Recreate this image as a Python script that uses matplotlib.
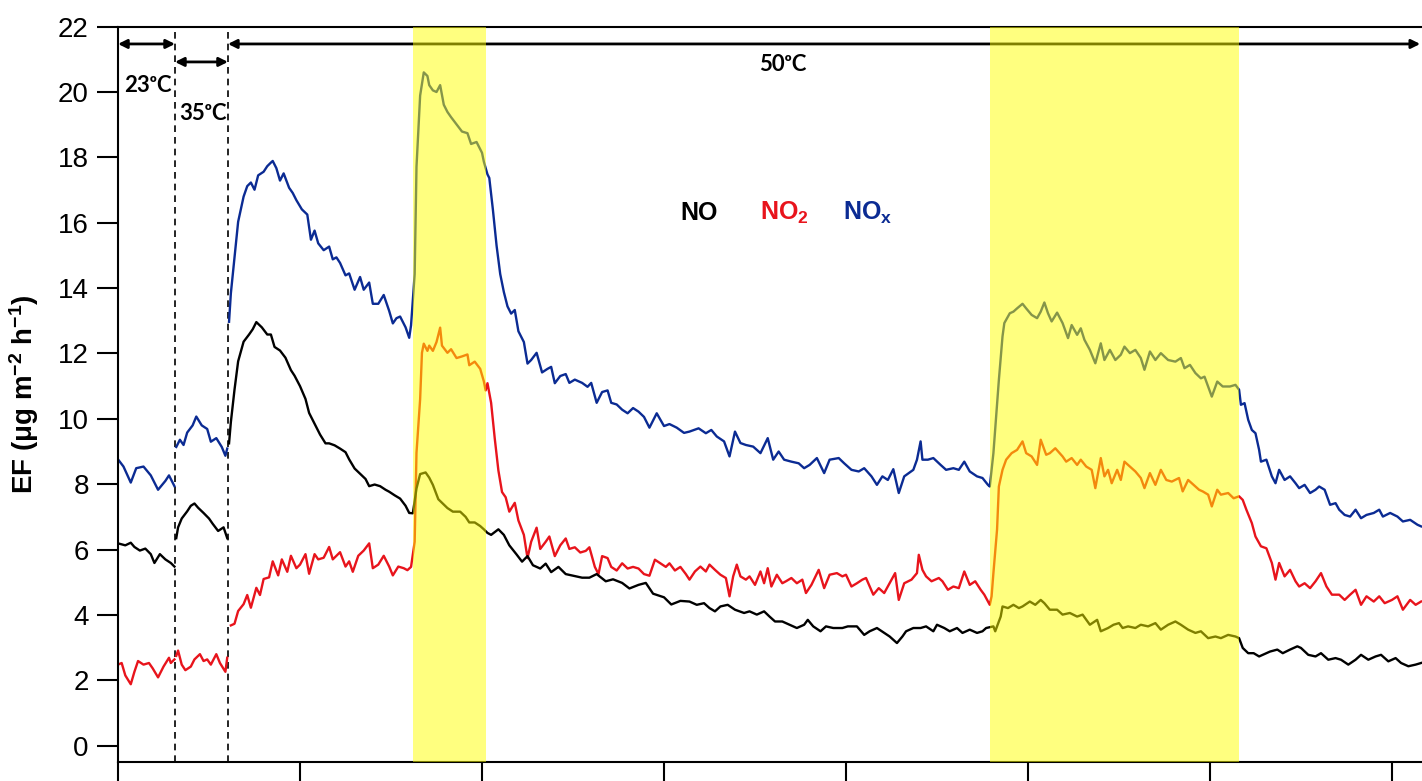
import numpy as np
import matplotlib
matplotlib.use('Agg')
import matplotlib.pyplot as plt

# elapsed time (one major tick = 1 unit) and EF values
t_nox = [0.00, 0.03, 0.07, 0.10, 0.14, 0.18, 0.22, 0.26, 0.28, 0.31, None,
         0.32, 0.34, 0.36, 0.38, 0.41, 0.43, 0.46, 0.49, 0.51, 0.54, 0.57, 0.59, 0.60, None,
         0.61, 0.62, 0.64, 0.66, 0.69, 0.71, 0.73, 0.75, 0.77, 0.80, 0.82, 0.84, 0.85, 0.87,
         0.89, 0.91, 0.94, 0.96, 0.98, 1.01, 1.04, 1.06, 1.08, 1.10, 1.13, 1.16, 1.18, 1.20,
         1.22, 1.25, 1.27, 1.30, 1.33, 1.35, 1.38, 1.40, 1.43, 1.46, 1.49, 1.51, 1.53, 1.55,
         1.58, 1.60, 1.61, 1.63, 1.64, 1.66, 1.68, 1.70, 1.71, 1.73, 1.75, 1.77, 1.79, 1.81,
         1.83, 1.86, 1.89, 1.92, 1.94, 1.97, 2.00, 2.01, 2.03, 2.04, 2.06, 2.08, 2.10, 2.12,
         2.14, 2.16, 2.18, 2.20, 2.23, 2.25, 2.27, 2.30, 2.33, 2.36, 2.38, 2.40, 2.43, 2.46,
         2.48, 2.51, 2.55, 2.58, 2.60, 2.63, 2.66, 2.69, 2.71, 2.74, 2.77, 2.80, 2.83, 2.86,
         2.89, 2.92, 2.96, 3.00, 3.03, 3.07, 3.11, 3.14, 3.19, 3.23, 3.26, 3.29, 3.33, 3.36,
         3.39, 3.42, 3.45, 3.49, 3.53, 3.57, 3.60, 3.63, 3.66, 3.70, 3.74, 3.77, 3.80, 3.84,
         3.88, 3.91, 3.96, 3.99, 4.03, 4.07, 4.10, 4.14, 4.17, 4.20, 4.23, 4.26, 4.29, 4.32,
         4.37, 4.39, 4.41, 4.42, 4.45, 4.48, 4.52, 4.55, 4.59, 4.62, 4.65, 4.68, 4.72, 4.75,
         4.78, 4.79, 4.81, 4.84, 4.86, 4.87, 4.90, 4.92, 4.94, 4.97, 4.99, 5.02, 5.05, 5.07,
         5.09, 5.11, 5.13, 5.16, 5.19, 5.22, 5.24, 5.27, 5.29, 5.31, 5.34, 5.37, 5.40, 5.42,
         5.45, 5.48, 5.51, 5.53, 5.56, 5.59, 5.62, 5.64, 5.67, 5.70, 5.73, 5.77, 5.81, 5.84,
         5.86, 5.89, 5.92, 5.95, 5.97, 6.01, 6.04, 6.07, 6.11, 6.14, 6.16, 6.17, 6.19, 6.21,
         6.23, 6.25, 6.27, 6.28, 6.31, 6.34, 6.36, 6.38, 6.41, 6.44, 6.47, 6.49, 6.52, 6.55,
         6.58, 6.60, 6.63, 6.66, 6.69, 6.71, 6.74, 6.77, 6.80, 6.83, 6.86, 6.90, 6.93, 6.95,
         6.99, 7.03, 7.06, 7.10, 7.14, 7.16]
nox = [8.76, 8.54, 8.05, 8.49, 8.54, 8.27, 7.83, 8.10, 8.27, 7.94, None,
       9.14, 9.36, 9.20, 9.58, 9.80, 10.07, 9.80, 9.69, 9.30, 9.41, 9.14, 8.87, 9.09, None,
       12.97, 13.84, 14.94, 16.03, 16.80, 17.12, 17.23, 17.01, 17.45, 17.56, 17.73, 17.84, 17.89, 17.67,
       17.29, 17.51, 17.07, 16.91, 16.69, 16.41, 16.25, 15.48, 15.76, 15.37, 15.16, 15.27, 14.88, 14.94,
       14.77, 14.39, 14.45, 13.95, 14.34, 13.95, 14.17, 13.52, 13.52, 13.79, 13.30, 12.92, 13.08, 13.13,
       12.80, 12.48, 12.86, 14.43, 17.71, 19.89, 20.60, 20.49, 20.21, 20.05, 20.00, 20.21, 19.61, 19.39,
       19.23, 19.01, 18.79, 18.74, 18.41, 18.47, 18.14, 17.87, 17.48, 17.37, 16.39, 15.30, 14.43, 13.88,
       13.44, 13.22, 13.33, 12.68, 12.35, 11.69, 11.80, 12.02, 11.42, 11.53, 11.59, 11.09, 11.31, 11.37,
       11.10, 11.20, 11.10, 10.98, 11.10, 10.49, 10.82, 10.87, 10.49, 10.44, 10.28, 10.17, 10.33, 10.22,
       10.06, 9.73, 10.17, 9.78, 9.84, 9.73, 9.57, 9.61, 9.71, 9.56, 9.66, 9.46, 9.31, 8.85,
       9.61, 9.26, 9.20, 9.15, 8.95, 9.41, 8.75, 9.00, 8.75, 8.69, 8.64, 8.49, 8.59, 8.80,
       8.34, 8.75, 8.80, 8.64, 8.44, 8.39, 8.49, 8.24, 7.98, 8.24, 8.13, 8.46, 7.73, 8.24,
       8.44, 8.75, 9.31, 8.75, 8.75, 8.80, 8.59, 8.44, 8.49, 8.44, 8.69, 8.39, 8.24, 8.19,
       7.98, 7.93, 8.95, 11.19, 12.52, 12.93, 13.23, 13.28, 13.38, 13.52, 13.38, 13.18, 13.08, 13.28,
       13.56, 13.23, 12.98, 13.25, 12.93, 12.47, 12.87, 12.57, 12.77, 12.42, 12.11, 11.70, 12.31, 11.80,
       12.11, 11.80, 11.96, 12.21, 12.01, 12.11, 11.86, 11.50, 12.06, 11.80, 12.01, 11.80, 11.75, 11.86,
       11.55, 11.65, 11.40, 11.24, 11.29, 10.68, 11.14, 10.99, 10.99, 11.04, 10.89, 10.43, 10.48, 9.97,
       9.66, 9.56, 9.05, 8.69, 8.75, 8.24, 8.03, 8.44, 8.13, 8.24, 8.03, 7.88, 7.98, 7.73,
       7.83, 7.93, 7.83, 7.37, 7.42, 7.22, 7.06, 7.01, 7.22, 6.96, 7.06, 7.12, 7.22, 7.01,
       7.12, 7.01, 6.86, 6.91, 6.76, 6.71]

t_no = [0.00, 0.04, 0.07, 0.09, 0.12, 0.15, 0.18, 0.20, 0.23, 0.26, 0.29, 0.31, None,
        0.32, 0.33, 0.35, 0.38, 0.40, 0.42, 0.44, 0.47, 0.50, 0.52, 0.55, 0.58, 0.60, None,
        0.61, 0.62, 0.64, 0.66, 0.69, 0.72, 0.74, 0.76, 0.79, 0.82, 0.84, 0.86, 0.89, 0.92,
        0.95, 0.97, 1.00, 1.03, 1.05, 1.08, 1.11, 1.14, 1.16, 1.19, 1.22, 1.25, 1.27, 1.30,
        1.33, 1.36, 1.38, 1.41, 1.44, 1.47, 1.49, 1.52, 1.55, 1.58, 1.60, 1.62, 1.64, 1.66,
        1.69, 1.71, 1.73, 1.76, 1.79, 1.81, 1.84, 1.88, 1.91, 1.93, 1.96, 1.99, 2.01, 2.03,
        2.05, 2.09, 2.12, 2.15, 2.19, 2.22, 2.25, 2.28, 2.32, 2.35, 2.38, 2.42, 2.46, 2.50,
        2.55, 2.59, 2.63, 2.68, 2.72, 2.77, 2.81, 2.86, 2.90, 2.94, 3.00, 3.04, 3.09, 3.14,
        3.18, 3.22, 3.25, 3.28, 3.31, 3.35, 3.39, 3.44, 3.47, 3.51, 3.55, 3.58, 3.61, 3.65,
        3.69, 3.73, 3.77, 3.79, 3.82, 3.86, 3.89, 3.93, 3.98, 4.01, 4.06, 4.10, 4.13, 4.17,
        4.21, 4.24, 4.28, 4.31, 4.33, 4.37, 4.41, 4.44, 4.48, 4.50, 4.54, 4.57, 4.61, 4.64,
        4.68, 4.72, 4.75, 4.77, 4.81, 4.82, 4.85, 4.86, 4.89, 4.92, 4.95, 4.97, 5.01, 5.04,
        5.07, 5.09, 5.12, 5.16, 5.19, 5.23, 5.27, 5.30, 5.34, 5.38, 5.40, 5.44, 5.47, 5.50,
        5.52, 5.55, 5.59, 5.62, 5.66, 5.70, 5.73, 5.77, 5.81, 5.84, 5.88, 5.92, 5.95, 5.99,
        6.03, 6.06, 6.10, 6.14, 6.16, 6.18, 6.21, 6.24, 6.27, 6.29, 6.33, 6.37, 6.40, 6.44,
        6.48, 6.50, 6.54, 6.58, 6.61, 6.65, 6.69, 6.72, 6.76, 6.80, 6.83, 6.87, 6.91, 6.94,
        6.98, 7.02, 7.05, 7.09, 7.13, 7.16]
no = [6.19, 6.13, 6.21, 6.08, 5.97, 6.03, 5.86, 5.59, 5.86, 5.70, 5.59, 5.48, None,
      6.35, 6.68, 6.95, 7.17, 7.34, 7.41, 7.28, 7.12, 6.95, 6.79, 6.57, 6.68, 6.35, None,
      9.25, 9.90, 10.89, 11.76, 12.36, 12.58, 12.74, 12.96, 12.80, 12.58, 12.58, 12.20, 12.09, 11.87,
      11.49, 11.32, 11.00, 10.61, 10.18, 9.85, 9.52, 9.25, 9.25, 9.19, 9.09, 8.98, 8.76, 8.48,
      8.32, 8.16, 7.94, 7.99, 7.94, 7.83, 7.77, 7.66, 7.56, 7.34, 7.12, 7.11, 7.87, 8.31,
      8.36, 8.20, 7.98, 7.54, 7.38, 7.27, 7.16, 7.16, 7.00, 6.83, 6.83, 6.72, 6.62, 6.51,
      6.45, 6.62, 6.45, 6.13, 5.85, 5.63, 5.80, 5.52, 5.42, 5.57, 5.31, 5.47, 5.25, 5.20,
      5.14, 5.14, 5.25, 5.03, 5.09, 4.98, 4.81, 4.92, 4.98, 4.65, 4.54, 4.32, 4.43, 4.41,
      4.31, 4.36, 4.21, 4.11, 4.26, 4.31, 4.16, 4.06, 4.11, 4.01, 4.11, 3.95, 3.80, 3.80,
      3.70, 3.60, 3.70, 3.85, 3.65, 3.50, 3.65, 3.60, 3.60, 3.65, 3.65, 3.39, 3.50, 3.60,
      3.45, 3.34, 3.14, 3.34, 3.50, 3.60, 3.60, 3.65, 3.50, 3.70, 3.60, 3.50, 3.60, 3.45,
      3.55, 3.45, 3.50, 3.60, 3.65, 3.50, 3.95, 4.26, 4.21, 4.31, 4.21, 4.26, 4.41, 4.31,
      4.46, 4.36, 4.16, 4.16, 4.01, 4.06, 3.95, 4.01, 3.70, 3.85, 3.50, 3.60, 3.70, 3.75,
      3.60, 3.65, 3.60, 3.70, 3.65, 3.75, 3.55, 3.70, 3.80, 3.70, 3.55, 3.45, 3.50, 3.29,
      3.34, 3.29, 3.39, 3.34, 3.29, 2.99, 2.83, 2.83, 2.73, 2.78, 2.88, 2.94, 2.83, 2.94,
      3.04, 2.99, 2.78, 2.73, 2.83, 2.63, 2.68, 2.63, 2.48, 2.63, 2.78, 2.63, 2.73, 2.78,
      2.58, 2.68, 2.53, 2.43, 2.48, 2.53]

t_no2 = [0.00, 0.02, 0.04, 0.07, 0.09, 0.11, 0.14, 0.17, 0.19, 0.22, 0.25, 0.28, 0.29, 0.31, None,
         0.32, 0.33, 0.35, 0.37, 0.40, 0.42, 0.45, 0.47, 0.49, 0.51, 0.54, 0.56, 0.59, 0.60, None,
         0.62, 0.64, 0.66, 0.69, 0.71, 0.73, 0.76, 0.78, 0.80, 0.83, 0.85, 0.88, 0.90, 0.93,
         0.95, 0.98, 1.00, 1.03, 1.05, 1.08, 1.10, 1.13, 1.16, 1.18, 1.20, 1.22, 1.25, 1.27,
         1.29, 1.32, 1.35, 1.38, 1.40, 1.43, 1.46, 1.49, 1.51, 1.54, 1.57, 1.59, 1.61, 1.63,
         1.64, 1.66, 1.67, 1.68, 1.70, 1.71, 1.73, 1.75, 1.77, 1.78, 1.81, 1.83, 1.86, 1.89,
         1.92, 1.93, 1.96, 1.99, 2.01, 2.02, 2.03, 2.05, 2.07, 2.09, 2.11, 2.13, 2.15, 2.18,
         2.20, 2.23, 2.25, 2.27, 2.30, 2.32, 2.35, 2.37, 2.40, 2.43, 2.46, 2.48, 2.51, 2.54,
         2.57, 2.59, 2.62, 2.64, 2.66, 2.69, 2.71, 2.74, 2.77, 2.80, 2.83, 2.86, 2.89, 2.92,
         2.95, 2.98, 3.01, 3.03, 3.06, 3.09, 3.12, 3.14, 3.17, 3.20, 3.23, 3.25, 3.28, 3.31,
         3.34, 3.36, 3.38, 3.40, 3.42, 3.45, 3.47, 3.50, 3.53, 3.55, 3.57, 3.59, 3.62, 3.65,
         3.67, 3.70, 3.73, 3.76, 3.78, 3.81, 3.85, 3.88, 3.91, 3.95, 3.98, 4.00, 4.03, 4.06,
         4.09, 4.11, 4.15, 4.18, 4.21, 4.25, 4.27, 4.29, 4.32, 4.36, 4.39, 4.40, 4.42, 4.44,
         4.47, 4.51, 4.53, 4.56, 4.59, 4.62, 4.65, 4.68, 4.71, 4.74, 4.76, 4.79, 4.80, 4.81,
         4.83, 4.84, 4.86, 4.88, 4.91, 4.94, 4.97, 4.99, 5.02, 5.05, 5.07, 5.10, 5.12, 5.15,
         5.19, 5.21, 5.24, 5.27, 5.29, 5.32, 5.35, 5.37, 5.40, 5.42, 5.44, 5.46, 5.49, 5.51,
         5.53, 5.56, 5.59, 5.62, 5.64, 5.67, 5.70, 5.73, 5.76, 5.79, 5.83, 5.85, 5.88, 5.91,
         5.94, 5.96, 5.99, 6.01, 6.04, 6.06, 6.10, 6.13, 6.16, 6.18, 6.20, 6.23, 6.25, 6.28,
         6.31, 6.34, 6.36, 6.38, 6.41, 6.44, 6.47, 6.49, 6.52, 6.55, 6.58, 6.61, 6.64, 6.67,
         6.71, 6.74, 6.77, 6.80, 6.83, 6.86, 6.90, 6.93, 6.96, 7.00, 7.03, 7.06, 7.10, 7.13,
         7.16]
no2 = [2.48, 2.53, 2.15, 1.88, 2.26, 2.59, 2.48, 2.53, 2.37, 2.09, 2.42, 2.69, 2.53, 2.64, None,
       2.75, 2.91, 2.48, 2.31, 2.42, 2.64, 2.80, 2.59, 2.64, 2.48, 2.80, 2.53, 2.26, 2.69, None,
       3.68, 3.73, 4.12, 4.33, 4.61, 4.22, 4.83, 4.61, 5.10, 5.15, 5.64, 5.21, 5.70, 5.32,
       5.81, 5.43, 5.54, 5.86, 5.26, 5.86, 5.70, 5.75, 6.08, 5.70, 5.81, 5.92, 5.48, 5.64,
       5.32, 5.81, 5.97, 6.19, 5.43, 5.54, 5.81, 5.48, 5.21, 5.48, 5.43, 5.37, 5.47, 6.24,
       8.96, 10.60, 12.02, 12.30, 12.08, 12.24, 12.08, 12.35, 12.79, 12.24, 12.02, 12.13, 11.86, 11.91,
       11.97, 11.64, 11.75, 11.53, 11.15, 10.87, 11.09, 10.49, 9.40, 8.42, 7.76, 7.60, 7.16, 7.43,
       6.89, 6.45, 5.74, 6.24, 6.67, 6.02, 6.24, 6.40, 5.80, 6.13, 6.34, 6.02, 6.07, 5.91,
       5.96, 6.07, 5.47, 5.25, 5.80, 5.74, 5.47, 5.36, 5.58, 5.42, 5.47, 5.42, 5.25, 5.20,
       5.69, 5.58, 5.47, 5.58, 5.36, 5.47, 5.25, 5.08, 5.33, 5.48, 5.33, 5.54, 5.38, 5.23,
       5.13, 4.57, 5.18, 5.54, 5.18, 5.08, 5.18, 4.92, 5.33, 4.97, 5.43, 4.87, 5.23, 4.97,
       5.03, 5.13, 4.97, 5.08, 4.67, 4.92, 5.38, 4.82, 5.23, 5.28, 5.18, 5.23, 4.87, 4.97,
       5.08, 5.13, 4.62, 4.82, 4.67, 5.08, 5.28, 4.46, 4.97, 5.08, 5.28, 5.84, 5.38, 5.18,
       5.03, 5.13, 5.03, 4.77, 4.87, 4.82, 5.33, 4.92, 5.03, 4.77, 4.62, 4.31, 4.57, 5.28,
       6.61, 7.93, 8.44, 8.75, 8.95, 9.05, 9.31, 8.95, 8.85, 8.59, 9.36, 8.90, 8.95, 9.10,
       8.85, 8.69, 8.80, 8.59, 8.75, 8.54, 8.44, 7.88, 8.80, 8.24, 8.44, 8.03, 8.44, 8.13,
       8.69, 8.54, 8.39, 8.19, 7.88, 8.34, 7.98, 8.44, 8.13, 8.08, 8.19, 7.78, 8.13, 7.98,
       7.83, 7.78, 7.68, 7.32, 7.83, 7.68, 7.73, 7.57, 7.63, 7.52, 7.22, 6.81, 6.40, 6.10,
       6.04, 5.59, 5.08, 5.59, 5.18, 5.38, 5.03, 4.87, 4.97, 4.82, 5.03, 5.28, 4.87, 4.62,
       4.62, 4.46, 4.62, 4.77, 4.31, 4.57, 4.41, 4.57, 4.36, 4.46, 4.57, 4.16, 4.46, 4.31,
       4.41]

temp_bounds = [0.0, 0.313, 0.604, 7.165]
temp_labels = ['23ᵒC', '35ᵒC', '50ᵒC']
light_on = [(1.62, 2.02), (4.79, 6.16)]


def to_arr(v):
    return np.array([np.nan if a is None else a for a in v], dtype=float)


plt.rcParams['font.family'] = ['Liberation Sans', 'DejaVu Sans']
plt.rcParams['mathtext.fontset'] = 'custom'
plt.rcParams['mathtext.rm'] = 'Liberation Sans:bold'
plt.rcParams['mathtext.bf'] = 'Liberation Sans:bold'
plt.rcParams['mathtext.default'] = 'bf'

fig = plt.figure(figsize=(14.22, 7.81), dpi=100)
ax = fig.add_axes([0.083, 0.0243, 0.917, 0.9416])

ax.plot(to_arr(t_nox), to_arr(nox), color='#0b2b93', lw=1.7, zorder=2)
ax.plot(to_arr(t_no2), to_arr(no2), color='#e8141c', lw=1.7, zorder=2)
ax.plot(to_arr(t_no), to_arr(no), color='black', lw=1.7, zorder=2)

# light period shading, drawn over the traces like in the original
for a, b in light_on:
    ax.axvspan(a, b, color='yellow', alpha=0.5, lw=0, zorder=4)

for xb in temp_bounds[1:3]:
    ax.plot([xb, xb], [-0.5, 22], color='black', lw=1.2, ls=(0, (4, 3)), zorder=1)

arr = dict(arrowstyle='<|-|>', color='black', lw=2, mutation_scale=13, shrinkA=0, shrinkB=0)
ax.annotate('', xy=(temp_bounds[0], 21.47), xytext=(temp_bounds[1], 21.47), arrowprops=arr, zorder=1)
ax.annotate('', xy=(temp_bounds[1], 20.92), xytext=(temp_bounds[2], 20.92), arrowprops=arr, zorder=1)
ax.annotate('', xy=(temp_bounds[2], 21.47), xytext=(temp_bounds[3] - 0.01, 21.47), arrowprops=arr, zorder=1)

tfont = dict(family=['Lato', 'DejaVu Sans'], weight='bold', fontsize=16)
ax.text(0.035, 20.21, temp_labels[0], va='center', ha='left', **tfont)
ax.text(0.335, 19.33, temp_labels[1], va='center', ha='left', **tfont)
ax.text(3.655, 20.83, temp_labels[2], va='center', ha='center', **tfont)

ax.text(3.088, 16.3, 'NO', color='black', fontsize=18, fontweight='bold', va='center')
ax.text(3.527, 16.3, r'NO$_{2}$', color='#e8141c', fontsize=18, fontweight='bold', va='center')
ax.text(3.984, 16.3, r'NO$_{x}$', color='#0b2b93', fontsize=18, fontweight='bold', va='center')

ax.set_xlim(0, 7.165)
ax.set_ylim(-0.5, 22)
ax.set_yticks(np.arange(0, 23, 2))
ax.set_xticks(np.arange(0, 8, 1))
ax.tick_params(axis='y', direction='out', length=15, width=1.5, labelsize=20, pad=6)
ax.tick_params(axis='x', direction='out', length=20, width=1.5, labelbottom=False)
ax.spines['right'].set_visible(False)
for s in ['left', 'top', 'bottom']:
    ax.spines[s].set_linewidth(1.5)

ax.set_ylabel(r'EF (μg m$^{-2}$ h$^{-1}$)', fontsize=20, fontweight='bold', labelpad=12)

fig.savefig('out.png', dpi=100)
